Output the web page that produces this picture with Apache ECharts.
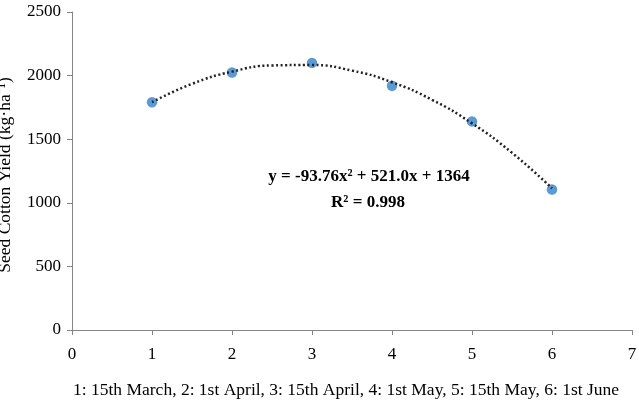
<!DOCTYPE html>
<html>
<head>
<meta charset="utf-8">
<script src="https://cdn.jsdelivr.net/npm/echarts@6/dist/echarts.min.js"></script>
<style>
  html, body { margin: 0; padding: 0; background: #fff; }
  #chart { width: 639px; height: 402px; }
</style>
</head>
<body>
<div id="chart"></div>
<script>
// sowing date index and measured yield
const sowingIdx = [1, 2, 3, 4, 5, 6]
const yieldVals = [1790, 2025, 2100, 1920, 1640, 1105]

// polynomial trend line
const trendX = [1, 1.5, 2, 2.5, 3, 3.5, 4, 4.5, 5, 5.5, 6]
const trendY = [1791, 1935, 2031, 2080, 2083, 2039, 1948, 1810, 1625, 1393, 1114]

const yTicks = [0, 500, 1000, 1500, 2000, 2500]
const eqText = 'y = -93.76x² + 521.0x + 1364'
const r2Text = 'R² = 0.998'
const xTitle = '1: 15th March, 2: 1st April, 3: 15th April, 4: 1st May, 5: 15th May, 6: 1st June'
const yTitle = 'Seed Cotton Yield (kg·ha⁻¹)'

const font = 'Liberation Serif'
const chart = echarts.init(document.getElementById('chart'))

const option = {
  animation: false,
  grid: { left: 72, right: 7, top: 12, bottom: 72, containLabel: false, outerBoundsMode: 'none' },
  xAxis: {
    type: 'value',
    min: 0,
    max: 7,
    interval: 1,
    name: xTitle,
    nameLocation: 'middle',
    nameGap: 51,
    nameTextStyle: { fontFamily: font, fontSize: 17.5, color: '#000', padding: [0, 12, 0, 0] },
    axisLine: { show: true, onZero: false, lineStyle: { color: '#868686', width: 1 } },
    axisTick: { show: true, length: 5, lineStyle: { color: '#868686' } },
    axisLabel: { fontFamily: font, fontSize: 17, color: '#000', margin: 16 },
    splitLine: { show: false }
  },
  yAxis: {
    type: 'value',
    min: yTicks[0],
    max: yTicks[yTicks.length - 1],
    interval: 500,
    name: yTitle,
    nameLocation: 'middle',
    nameGap: 58,
    nameRotate: 90,
    nameTextStyle: { fontFamily: font, fontSize: 17.5, color: '#000', padding: [0, 8, 0, 0] },
    axisLine: { show: true, lineStyle: { color: '#868686', width: 1 } },
    axisTick: { show: true, length: 5, lineStyle: { color: '#868686' } },
    axisLabel: { fontFamily: font, fontSize: 17, color: '#000', margin: 11, formatter: v => String(v) },
    splitLine: { show: false }
  },
  series: [
    {
      type: 'scatter',
      data: sowingIdx.map((x, i) => [x, yieldVals[i]]),
      symbolSize: 10.5,
      itemStyle: { color: '#5b9bd5', opacity: 1 },
      z: 2
    },
    {
      type: 'line',
      data: trendX.map((x, i) => [x, trendY[i]]),
      smooth: true,
      showSymbol: false,
      lineStyle: { color: '#222', width: 2.5, type: [2, 2.5], cap: 'butt' },
      z: 3
    }
  ],
  graphic: [
    {
      type: 'text',
      style: { text: eqText, x: 369, y: 177, align: 'center', verticalAlign: 'middle', font: 'bold 17px "Liberation Serif"', fill: '#000' }
    },
    {
      type: 'text',
      style: { text: r2Text, x: 368, y: 203, align: 'center', verticalAlign: 'middle', font: 'bold 17px "Liberation Serif"', fill: '#000' }
    }
  ]
}

chart.setOption(option)
</script>
</body>
</html>
